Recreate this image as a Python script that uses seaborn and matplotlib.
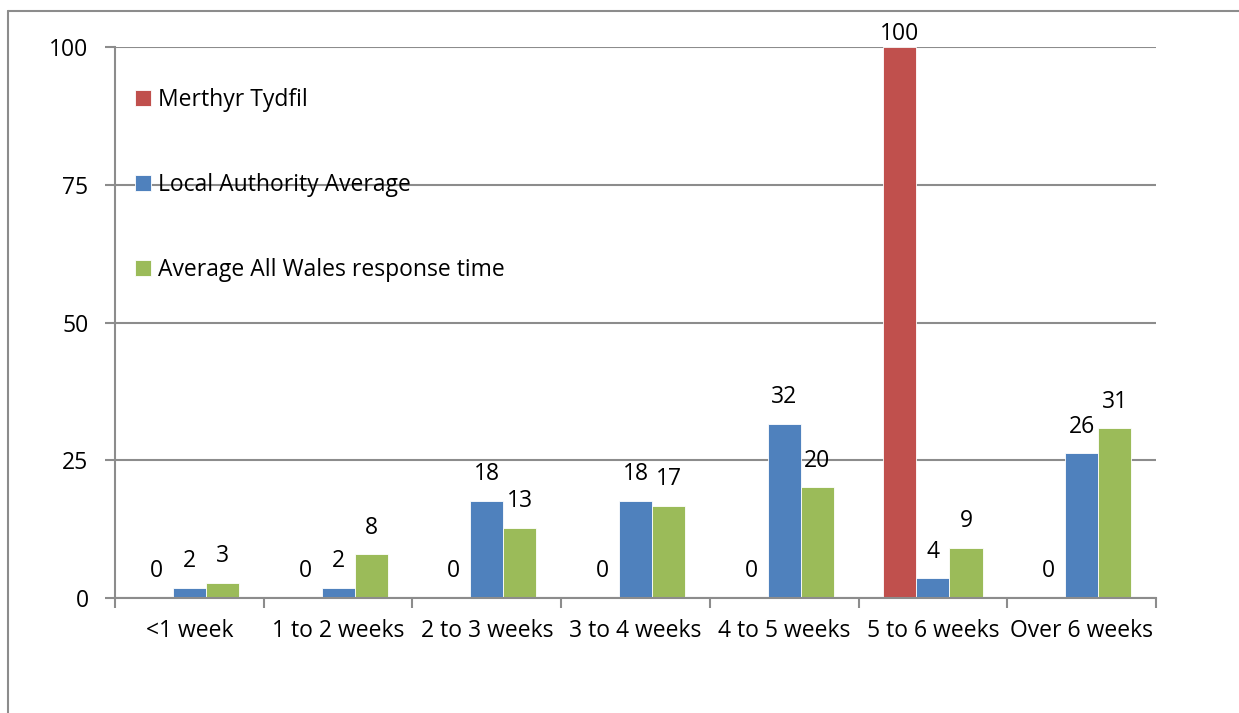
import pandas as pd
import numpy as np
import matplotlib
matplotlib.use("Agg")
import matplotlib.pyplot as plt
from matplotlib.lines import Line2D
from matplotlib.ticker import FixedLocator
import seaborn as sns

categories = ["<1 week", "1 to 2 weeks", "2 to 3 weeks", "3 to 4 weeks",
              "4 to 5 weeks", "5 to 6 weeks", "Over 6 weeks"]
series_names = ["Merthyr Tydfil", "Local Authority Average",
                "Average All Wales response time"]
merthyr = [0, 0, 0, 0, 0, 100, 0]
la_avg = [1.8, 1.8, 17.6, 17.6, 31.6, 3.6, 26.3]
wales_avg = [2.8, 7.9, 12.7, 16.7, 20.1, 9.1, 30.8]
colors = ["#C0504D", "#4F81BD", "#9BBB59"]

df = pd.DataFrame({
    "period": categories * 3,
    "value": merthyr + la_avg + wales_avg,
    "series": [s for s in series_names for _ in categories],
})

sns.set_style("white")
plt.rcParams["font.family"] = ["Open Sans", "DejaVu Sans"]
plt.rcParams["text.color"] = "black"
plt.rcParams["xtick.labelcolor"] = "black"
plt.rcParams["ytick.labelcolor"] = "black"
FS = 16.5

fig = plt.figure(figsize=(12.39, 7.13), dpi=100)
ax = fig.add_axes([115 / 1239, 1 - 598 / 713, 1041 / 1239, 551 / 713])

sns.barplot(data=df, x="period", y="value", hue="series", order=categories,
            hue_order=series_names, palette=colors, saturation=1,
            width=0.667, gap=0, edgecolor="white", linewidth=0.6, ax=ax)

ax.set_xlim(-0.5, 6.5)
ax.set_ylim(0, 100)

# подписи над столбцами (у верхней границы отступ меньше)
for cont in ax.containers:
    for bar in cont:
        h = bar.get_height()
        pad = 0.5 if h > 95 else 10.5
        ax.annotate(f"{h:.0f}", xy=(bar.get_x() + bar.get_width() / 2, h),
                    xytext=(0, pad), textcoords="offset points",
                    ha="center", va="bottom", fontsize=FS, color="black",
                    annotation_clip=False)

ax.set_yticks([0, 25, 50, 75, 100])
ax.yaxis.grid(True, color="#8C8C8C", linewidth=1.5)
ax.set_axisbelow(True)
ax.set_xlabel("")
ax.set_ylabel("")

for s in ["top", "right"]:
    ax.spines[s].set_visible(False)
for s in ["left", "bottom"]:
    ax.spines[s].set_color("#8C8C8C")
    ax.spines[s].set_linewidth(1.5)

ax.xaxis.set_minor_locator(FixedLocator(np.arange(-0.5, 7, 1)))
ax.tick_params(axis="x", which="major", length=0, pad=15, labelsize=FS)
ax.tick_params(axis="x", which="minor", length=7, width=1.5, color="#8C8C8C",
               direction="out", bottom=True)
ax.tick_params(axis="y", length=7, width=1.5, color="#8C8C8C", direction="out",
               left=True, pad=12, labelsize=FS)

ax.legend(loc="upper left", bbox_to_anchor=(0.019, 0.925), frameon=False,
          fontsize=FS, handlelength=0.7, handleheight=0.7,
          handletextpad=0.3, labelspacing=2.65, borderaxespad=0, borderpad=0)

# рамка вокруг диаграммы
fig.add_artist(Line2D([8 / 1239, 8 / 1239], [0, 1 - 11 / 713],
                      transform=fig.transFigure, color="#8C8C8C", lw=1.5))
fig.add_artist(Line2D([8 / 1239, 1], [1 - 11 / 713, 1 - 11 / 713],
                      transform=fig.transFigure, color="#8C8C8C", lw=1.5))

fig.savefig("out.png", dpi=100)
